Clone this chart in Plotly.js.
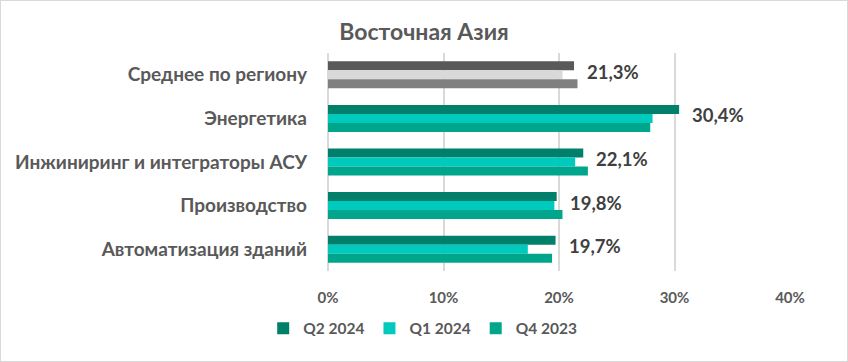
<!DOCTYPE html>
<html>
<head>
<meta charset="utf-8">
<script src="https://cdn.plot.ly/plotly-3.0.1.min.js"></script>
<style>
html,body{margin:0;padding:0;background:#fff;}
#wrap{width:848px;height:362px;box-sizing:border-box;border:1px solid #d9d9d9;position:relative;}
#chart{width:846px;height:360px;}
</style>
</head>
<body>
<div id="wrap"><div id="chart"></div></div>
<script>
const categories = ["Среднее по региону", "Энергетика", "Инжиниринг и интеграторы АСУ", "Производство", "Автоматизация зданий"];
const seriesNames = ["Q2 2024", "Q1 2024", "Q4 2023"];
const q2_2024 = [21.3, 30.4, 22.1, 19.8, 19.7];
const q1_2024 = [20.3, 28.1, 21.4, 19.6, 17.3];
const q4_2023 = [21.6, 27.9, 22.5, 20.3, 19.4];
const xTicks = [0, 10, 20, 30, 40];

const seriesValues = [q2_2024, q1_2024, q4_2023];
const mainColors = ["#007f6b", "#00c9bd", "#00a68b"];
const avgColors = ["#595959", "#d9d9d9", "#808080"];
const FONT = "Lato, 'Open Sans', sans-serif";

const traces = [];
seriesValues.forEach((vals, i) => {
  // regional average bar (grey shades)
  traces.push({
    type: "bar", orientation: "h", name: seriesNames[i],
    y: categories.slice(0, 1), x: vals.slice(0, 1),
    offsetgroup: "g" + i, showlegend: false,
    marker: {color: avgColors[i]}
  });
  // sector bars
  traces.push({
    type: "bar", orientation: "h", name: seriesNames[i],
    y: categories.slice(1), x: vals.slice(1),
    offsetgroup: "g" + i, showlegend: true,
    marker: {color: mainColors[i]}
  });
});

const annotations = categories.map((c, j) => ({
  x: q2_2024[j], y: c, xref: "x", yref: "y",
  text: q2_2024[j].toFixed(1).replace(".", ",") + "%",
  showarrow: false, xanchor: "left", yanchor: "middle",
  xshift: 11, yshift: 3,
  font: {family: FONT, size: 18.5, color: "#404040", weight: "bold"}
}));

const layout = {
  width: 846, height: 360,
  margin: {l: 327, r: 57, t: 52, b: 90},
  paper_bgcolor: "#fff", plot_bgcolor: "#fff",
  font: {family: FONT, color: "#595959", size: 15},
  separators: ",.",
  title: {text: "<b>Восточная Азия</b>", x: 0.5, xanchor: "center", y: 0.915, yanchor: "middle",
          font: {size: 23, color: "#595959", family: FONT}},
  barmode: "group", bargap: 0.38, bargroupgap: 0,
  xaxis: {
    range: [0, 40], tickvals: xTicks, ticktext: xTicks.map(v => v + "%"),
    showgrid: true, gridcolor: "#d9d9d9", gridwidth: 2,
    zeroline: true, zerolinecolor: "#d9d9d9", zerolinewidth: 2,
    showline: false, ticks: "", ticklabelstandoff: 16,
    tickfont: {size: 15, color: "#595959", weight: "bold"}, fixedrange: true
  },
  yaxis: {
    autorange: "reversed", type: "category", categoryorder: "array", categoryarray: categories,
    showgrid: false, zeroline: false, showline: false, ticks: "",
    ticklabelstandoff: 20,
    tickfont: {size: 19, color: "#595959", weight: "bold"}, fixedrange: true
  },
  legend: {
    orientation: "h", x: 0.205, xanchor: "center", y: -0.265, yanchor: "middle",
    font: {size: 15.5, color: "#595959", weight: "bold"}
  },
  annotations: annotations,
  showlegend: true
};

Plotly.newPlot("chart", traces, layout, {displayModeBar: false, staticPlot: true});
</script>
</body>
</html>
